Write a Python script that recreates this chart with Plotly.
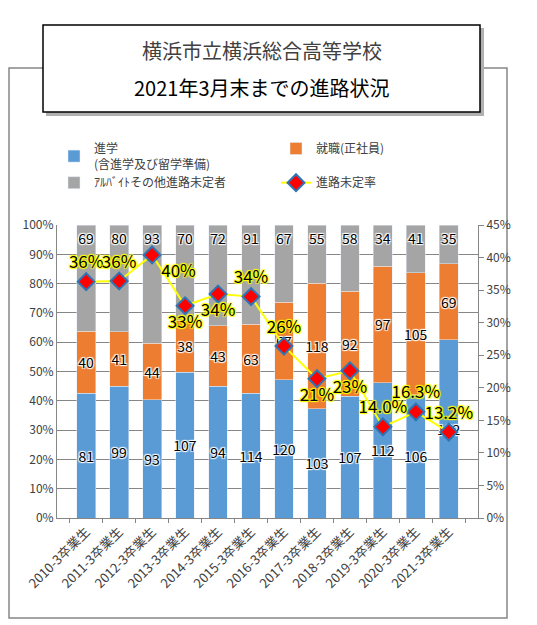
import plotly.graph_objects as go

# 卒業年度
years = ["2010-3卒業生", "2011-3卒業生", "2012-3卒業生", "2013-3卒業生",
         "2014-3卒業生", "2015-3卒業生", "2016-3卒業生", "2017-3卒業生",
         "2018-3卒業生", "2019-3卒業生", "2020-3卒業生", "2021-3卒業生"]

shingaku = [81, 99, 93, 107, 94, 114, 120, 103, 107, 112, 106, 162]
shushoku = [40, 41, 44, 38, 43, 63, 67, 118, 92, 97, 105, 69]
mitei = [69, 80, 93, 70, 72, 91, 67, 55, 58, 34, 41, 35]

# 進路未定率 (%)
rate = [36.3, 36.4, 40.4, 32.6, 34.4, 34.0, 26.4, 21.4, 22.6, 14.0, 16.3, 13.2]
rate_labels = ["36%", "36%", "40%", "33%", "34%", "34%", "26%", "21%", "23%",
               "14.0%", "16.3%", "13.2%"]
rate_label_pos = ["top center", "top center", "bottom right", "bottom center",
                  "bottom center", "top center", "top center", "bottom center",
                  "bottom center", "top center", "top center", "top center"]

FONT = "Noto Sans CJK JP"
white_glow = "1px 1px 1px white, -1px -1px 1px white, 1px -1px 1px white, -1px 1px 1px white"
yellow_glow = "1px 1px 1px #ffff00, -1px -1px 1px #ffff00, 1px -1px 1px #ffff00, -1px 1px 1px #ffff00"


def bar(name, vals, color, anchor="middle"):
    return go.Bar(
        x=years, y=vals, name=name, marker_color=color,
        text=[str(v) for v in vals], textposition="inside",
        insidetextanchor=anchor, textangle=0, constraintext="none",
        textfont=dict(size=14, color="black", family=FONT, shadow=white_glow),
        hoverinfo="skip",
    )


fig = go.Figure()
fig.add_trace(bar("進学<br>(含進学及び留学準備)", shingaku, "#5B9BD5"))
fig.add_trace(bar("就職(正社員)", shushoku, "#ED7D31"))
fig.add_trace(bar("ｱﾙﾊﾞｲﾄその他進路未定者", mitei, "#A5A5A5", anchor="end"))
fig.add_trace(go.Scatter(
    x=years, y=rate, name="進路未定率", yaxis="y2",
    mode="lines+markers+text",
    line=dict(color="#FFFF00", width=2),
    marker=dict(symbol="diamond", size=13, color="#FF0000",
                line=dict(color="#2E75B6", width=2)),
    text=rate_labels, textposition=rate_label_pos,
    textfont=dict(size=17, color="black", family=FONT, shadow=yellow_glow),
))

# paper coords helpers, in screen pixels (plot area 57..478 x 225..518)
def px(x):
    return (x - 57) / 421


def py(y):
    return (518 - y) / 293


def rect(x0, y0, x1, y1, **kw):
    return dict(type="rect", xref="paper", yref="paper",
                x0=px(x0), x1=px(x1), y0=py(y1), y1=py(y0), **kw)


# page body has an 8px margin, so the figure is 8px smaller each way
fig.update_layout(
    width=529, height=617,
    margin=dict(l=49, r=59, t=217, b=107, autoexpand=False),
    paper_bgcolor="white", plot_bgcolor="white",
    barmode="stack", barnorm="percent", bargap=0.43,
    font=dict(family=FONT, size=12, color="#404040"),
    showlegend=True,
    legend=dict(orientation="h", traceorder="normal",
                x=px(54), y=py(134), xanchor="left", yanchor="top",
                entrywidth=177, font=dict(size=12, color="#404040"),
                bgcolor="rgba(0,0,0,0)", tracegroupgap=4),
    xaxis=dict(tickangle=-45, showline=True, linecolor="#868686",
               ticks="outside", ticklen=4, tickcolor="#868686",
               tickson="boundaries", automargin=False,
               tickfont=dict(size=13, color="#404040")),
    yaxis=dict(range=[0, 100], dtick=10, ticksuffix="%", automargin=False,
               showgrid=True, gridcolor="#868686", gridwidth=1,
               showline=True, linecolor="#868686", zeroline=False,
               tickfont=dict(size=12, color="#404040")),
    yaxis2=dict(range=[0, 45], dtick=5, ticksuffix="%", overlaying="y",
                side="right", showgrid=False, zeroline=False, automargin=False,
                showline=True, linecolor="#868686",
                ticks="outside", ticklen=5, tickcolor="#868686",
                tickfont=dict(size=12, color="#404040")),
    shapes=[
        rect(9, 68, 507, 618, line=dict(color="#868686", width=1.5), layer="below"),
        rect(46, 28, 484, 116, fillcolor="#b0b0b0", line=dict(width=0), layer="above"),
        rect(43, 25, 480, 112, fillcolor="white",
             line=dict(color="black", width=1.5), layer="above"),
    ],
    annotations=[
        dict(xref="paper", yref="paper", x=px(261.5), y=py(50),
             xanchor="center", yanchor="middle", showarrow=False,
             text="横浜市立横浜総合高等学校",
             font=dict(size=20, color="#404040", family=FONT)),
        dict(xref="paper", yref="paper", x=px(261.5), y=py(88),
             xanchor="center", yanchor="middle", showarrow=False,
             text="2021年3月末までの進路状況",
             font=dict(size=20, color="black", family=FONT)),
    ],
)

fig.write_html("out.html")
